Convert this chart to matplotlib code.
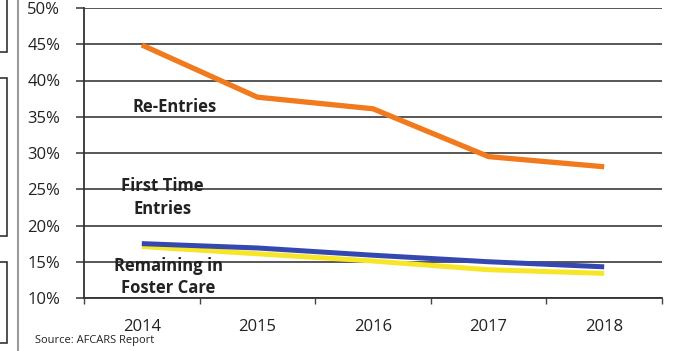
import matplotlib
matplotlib.use("Agg")
import matplotlib.pyplot as plt
from matplotlib.patches import Rectangle
from matplotlib.lines import Line2D
from matplotlib.ticker import FixedLocator, FuncFormatter

# Share of children by year, AFCARS
years = ["2014", "2015", "2016", "2017", "2018"]
re_entries = [44.9, 37.7, 36.1, 29.5, 28.1]
first_time = [17.5, 16.9, 15.9, 15.0, 14.3]
remaining = [17.1, 16.1, 15.1, 13.9, 13.4]

W, H = 682, 351
plt.rcParams['font.family'] = ['Open Sans', 'DejaVu Sans']

fig = plt.figure(figsize=(W / 100, H / 100), dpi=100)
ax = fig.add_axes([84 / W, 1 - 298 / H, (662 - 84) / W, (298 - 8) / H])

x = list(range(len(years)))
ax.plot(x, remaining, color="#F7E527", lw=3.6, solid_capstyle="butt", zorder=3)
ax.plot(x, first_time, color="#3448B0", lw=3.6, solid_capstyle="butt", zorder=4)
ax.plot(x, re_entries, color="#F17A1E", lw=3.8, solid_capstyle="butt", zorder=4)

ax.set_xlim(-0.5, 4.5)
ax.set_ylim(10, 50)
ax.set_xticks(x)
ax.set_xticklabels(years)
ax.xaxis.set_minor_locator(FixedLocator([i - 0.5 for i in range(len(years) + 1)]))
ax.set_yticks(range(10, 51, 5))
ax.yaxis.set_major_formatter(FuncFormatter(lambda v, p: f"{v:.0f}%"))

ax.tick_params(axis="x", which="major", length=0, pad=15, labelsize=12, colors="#222222")
ax.tick_params(axis="x", which="minor", length=4, width=1, color="#444444", direction="out")
ax.tick_params(axis="y", length=6, width=1.2, color="#444444", pad=11, labelsize=12,
               labelcolor="#222222")

ax.grid(axis="y", color="#4a4a4a", lw=1.3, zorder=1)
for s in ["top", "right"]:
    ax.spines[s].set_visible(False)
ax.spines["left"].set_color("#333333")
ax.spines["left"].set_linewidth(1.3)
ax.spines["bottom"].set_color("#333333")
ax.spines["bottom"].set_linewidth(1.3)
ax.set_axisbelow(True)

# series labels
ax.text(0.28, 36.3, "Re-Entries", ha="center", va="center", fontsize=12,
        fontweight="bold", color="#222222")
ax.text(0.18, 23.9, "First Time\nEntries", ha="center", va="center", fontsize=12,
        fontweight="bold", color="#222222", linespacing=1.35)
ax.text(0.23, 12.9, "Remaining in\nFoster Care", ha="center", va="center", fontsize=12,
        fontweight="bold", color="#222222", linespacing=1.3, zorder=5)

fig.text(35 / W, 1 - 341 / H, "Source: AFCARS Report", fontsize=8, color="#222222",
         va="center")

# page edge boxes and divider
for y0, y1 in [(-5, 52), (78, 236), (262, 343)]:
    fig.add_artist(Rectangle((-5 / W, 1 - y1 / H), 12 / W, (y1 - y0) / H,
                             transform=fig.transFigure, fill=False, ec="#333333", lw=1.2))
fig.add_artist(Line2D([18 / W, 18 / W], [0, 1], transform=fig.transFigure,
                      color="#9a9a9a", lw=1.5))

fig.savefig("out.png", dpi=100, facecolor="white")
